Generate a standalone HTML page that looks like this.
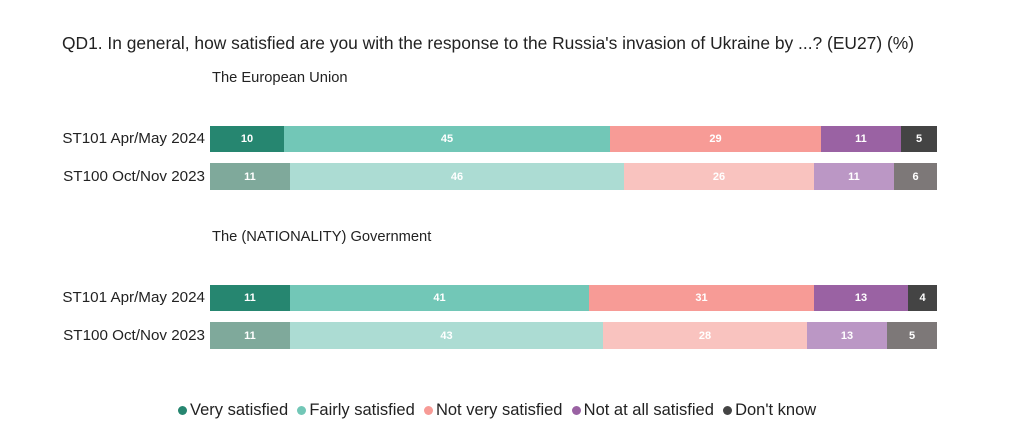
<!DOCTYPE html>
<html><head><style>
body{margin:0;width:1024px;height:441px;background:#fff;font-family:"Liberation Sans",sans-serif;position:relative;overflow:hidden;color:#222}
.t{position:absolute;white-space:nowrap}
.s{position:absolute;color:#fff;font-weight:bold;font-size:11px;display:flex;align-items:center;justify-content:center}
.lab{position:absolute;left:0;width:205px;text-align:right;font-size:15.2px}
.dot{display:inline-block;width:9px;height:9px;border-radius:50%;margin-right:3px;vertical-align:0px}
</style></head><body>
<div class="t" style="left:62px;top:33px;font-size:17.4px">QD1. In general, how satisfied are you with the response to the Russia's invasion of Ukraine by ...? (EU27) (%)</div>
<div class="t" style="left:212px;top:70px;font-size:14.7px">The European Union</div>
<div class="t" style="left:212px;top:229px;font-size:14.7px">The (NATIONALITY) Government</div>
<div class="lab" style="top:130px">ST101 Apr/May 2024</div>
<div class="lab" style="top:168px">ST100 Oct/Nov 2023</div>
<div class="lab" style="top:289px">ST101 Apr/May 2024</div>
<div class="lab" style="top:327px">ST100 Oct/Nov 2023</div>

<div class="s" style="left:210px;width:74px;top:126px;height:26px;background:#268670">10</div>
<div class="s" style="left:284px;width:326px;top:126px;height:26px;background:#72c7b7">45</div>
<div class="s" style="left:610px;width:211px;top:126px;height:26px;background:#f79b96">29</div>
<div class="s" style="left:821px;width:80px;top:126px;height:26px;background:#9a62a3">11</div>
<div class="s" style="left:901px;width:36px;top:126px;height:26px;background:#444">5</div>

<div class="s" style="left:210px;width:80px;top:163px;height:27px;background:#7fa99b">11</div>
<div class="s" style="left:290px;width:334px;top:163px;height:27px;background:#acdcd3">46</div>
<div class="s" style="left:624px;width:190px;top:163px;height:27px;background:#f9c3bf">26</div>
<div class="s" style="left:814px;width:80px;top:163px;height:27px;background:#bb97c5">11</div>
<div class="s" style="left:894px;width:43px;top:163px;height:27px;background:#7d7878">6</div>

<div class="s" style="left:210px;width:80px;top:285px;height:26px;background:#268670">11</div>
<div class="s" style="left:290px;width:299px;top:285px;height:26px;background:#72c7b7">41</div>
<div class="s" style="left:589px;width:225px;top:285px;height:26px;background:#f79b96">31</div>
<div class="s" style="left:814px;width:94px;top:285px;height:26px;background:#9a62a3">13</div>
<div class="s" style="left:908px;width:29px;top:285px;height:26px;background:#444">4</div>

<div class="s" style="left:210px;width:80px;top:322px;height:27px;background:#7fa99b">11</div>
<div class="s" style="left:290px;width:313px;top:322px;height:27px;background:#acdcd3">43</div>
<div class="s" style="left:603px;width:204px;top:322px;height:27px;background:#f9c3bf">28</div>
<div class="s" style="left:807px;width:80px;top:322px;height:27px;background:#bb97c5">13</div>
<div class="s" style="left:887px;width:50px;top:322px;height:27px;background:#7d7878">5</div>

<div class="t" style="left:178px;top:401px;font-size:16.5px">
<span class="dot" style="background:#268670"></span>Very satisfied&nbsp;
<span class="dot" style="background:#72c7b7"></span>Fairly satisfied&nbsp;
<span class="dot" style="background:#f79b96"></span>Not very satisfied&nbsp;
<span class="dot" style="background:#9a62a3"></span>Not at all satisfied&nbsp;
<span class="dot" style="background:#444"></span>Don't know</div>
</body></html>
